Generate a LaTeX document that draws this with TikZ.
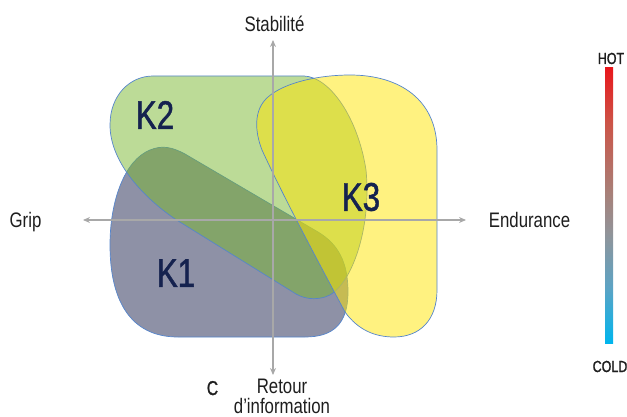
\documentclass[tikz,border=0pt]{standalone}
\usepackage{fontspec}
\setmainfont{Liberation Sans}[FakeStretch=0.8]
\newfontfamily\heavyfont{Liberation Sans}[FakeStretch=0.78, FakeBold=1.2]
\usetikzlibrary{arrows.meta}

\definecolor{kone}{HTML}{8E91A6}
\definecolor{ktwo}{HTML}{79B72F}
\definecolor{kthree}{HTML}{FFE501}
\definecolor{kedge}{HTML}{5585CC}
\definecolor{axisgrey}{HTML}{A8A8A8}
\definecolor{labelnavy}{HTML}{15224F}
\definecolor{textdark}{HTML}{1E1E1E}

% cold-to-hot colour ramp, bottom to top (the filled path spans 25bp..75bp)
\pgfdeclareverticalshading{tempramp}{100bp}{
  rgb(0bp)=(0,0.71,0.93);
  rgb(25bp)=(0,0.71,0.93);
  rgb(35bp)=(0.36,0.64,0.77);
  rgb(45bp)=(0.57,0.58,0.60);
  rgb(52.5bp)=(0.66,0.50,0.47);
  rgb(65bp)=(0.80,0.33,0.28);
  rgb(75bp)=(0.91,0.09,0.11);
  rgb(100bp)=(0.91,0.09,0.11)}

\tikzset{
  zone/.style={draw=kedge, line width=0.7pt},
  axisline/.style={draw=axisgrey, line width=1.5pt,
    {Stealth[length=7pt,width=6pt]}-{Stealth[length=7pt,width=6pt]}},
  zonelabel/.style={inner sep=0pt, text=labelnavy,
    font=\heavyfont\fontsize{40}{44}\selectfont},
  axislabel/.style={inner sep=0pt, anchor=base, text=textdark,
    font=\fontsize{21}{24}\selectfont},
  scalelabel/.style={inner sep=0pt, anchor=base, text=textdark,
    font=\heavyfont\fontsize{16}{18}\selectfont},
}

\begin{document}
\begin{tikzpicture}[x=1pt, y=-1pt]
  \useasboundingbox (0,0) rectangle (627,417);

  % K1: opaque base region
  \path[zone, fill=kone]
    (110,245)
    .. controls (110,200) and (125,160) .. (150,150)
    .. controls (162,145) and (172,147) .. (185,154)
    -- (318,232)
    .. controls (338,244) and (348,262) .. (348,292)
    .. controls (348,325) and (332,337) .. (305,337)
    -- (178,337)
    .. controls (130,337) and (110,300) .. (110,245) -- cycle;

  % K2: translucent green region
  \path[zone, fill=ktwo, fill opacity=0.5]
    (153,76) -- (304,76)
    .. controls (330,77) and (358,118) .. (366,170)
    .. controls (372,230) and (350,290) .. (325,297)
    .. controls (315,300) and (305,299) .. (296,294)
    -- (175,219)
    .. controls (140,195) and (110,160) .. (110,125)
    .. controls (110,95) and (130,76) .. (153,76) -- cycle;

  % K3: translucent yellow region
  \path[zone, fill=kthree, fill opacity=0.5]
    (345,312)
    .. controls (320,265) and (285,200) .. (262,150)
    .. controls (255,132) and (253,110) .. (268,97)
    .. controls (285,82) and (320,75) .. (350,75)
    .. controls (400,75) and (437,100) .. (437,150)
    -- (437,290)
    .. controls (437,320) and (420,337) .. (394,337)
    .. controls (375,337) and (358,330) .. (345,312) -- cycle;

  % axis end points
  \coordinate (ytop) at (273,40);
  \coordinate (ybot) at (273,375);
  \coordinate (xleft) at (83,220);
  \coordinate (xright) at (466,220);

  \draw[axisline] (ytop) -- (ybot);
  \draw[axisline] (xleft) -- (xright);

  % zone labels
  \node[zonelabel] (ltwo) at (155,115) {K2};
  \node[zonelabel] (lone) at (176,273) {K1};
  \node[zonelabel] (lthree) at (361,197) {K3};

  % axis labels
  \node[axislabel] (stab) at (274.5,32) {Stabilité};
  \node[axislabel] (grip) at (25.5,227) {Grip};
  \node[axislabel] (endu) at (529.5,228) {Endurance};
  \node[axislabel] (retour) at (282,393) {Retour};
  \node[axislabel] (info) at (282,413) {d’information};
  \node[axislabel, font=\heavyfont\fontsize{20}{22}\selectfont] (cee) at (212.5,395) {C};

  % temperature scale
  \shade[shading=tempramp] (605,68) rectangle (613,343);
  \node[scalelabel] (hot) at (611,64) {HOT};
  \node[scalelabel] (cold) at (610,372) {COLD};
\end{tikzpicture}
\end{document}
